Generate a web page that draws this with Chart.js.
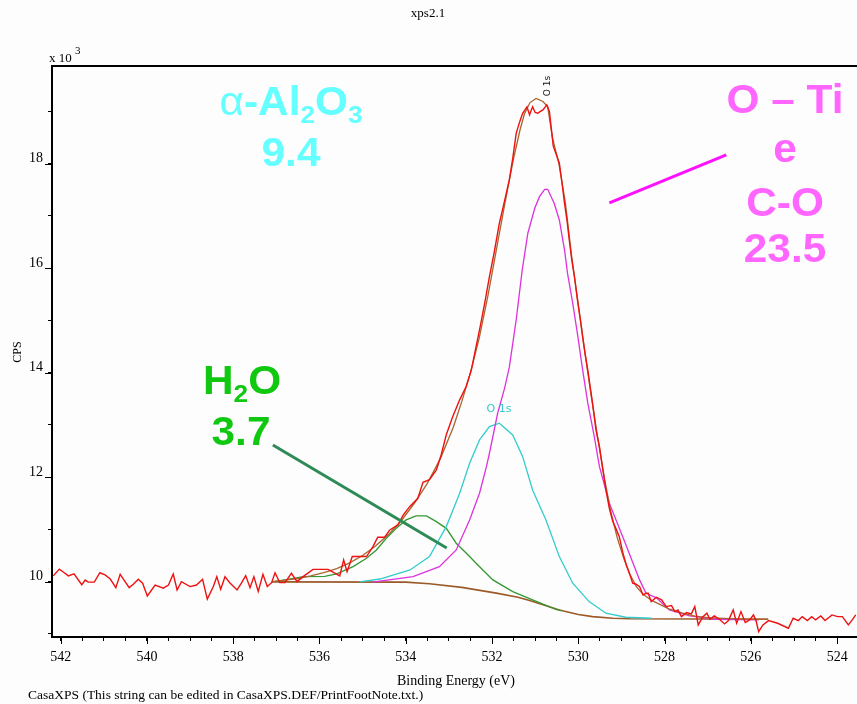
<!DOCTYPE html>
<html><head><meta charset="utf-8">
<script src="https://cdn.jsdelivr.net/npm/chart.js@4/dist/chart.umd.min.js"></script>
<style>html,body{margin:0;padding:0;background:#fdfdfd}#wrap{width:857px;height:704px}</style>
</head><body><div id="wrap"><canvas id="c" width="857" height="704"></canvas></div>
<script>
// ---------- DATA (binding energy in eV, intensity in CPS) ----------
const rawEnergy = [542.17,542.03,541.90,541.82,541.69,541.51,541.43,541.36,541.22,541.09,540.97,540.85,540.72,540.62,540.53,540.41,540.31,540.20,540.10,539.99,539.81,539.62,539.50,539.39,539.30,539.20,539.00,538.85,538.71,538.60,538.46,538.38,538.29,538.19,538.08,537.91,537.81,537.71,537.61,537.52,537.42,537.31,537.21,537.11,537.03,536.92,536.80,536.65,536.52,536.38,536.15,535.80,535.53,535.44,535.36,535.24,534.91,534.76,534.65,534.49,534.37,534.18,534.06,533.91,533.72,533.60,533.45,533.29,533.18,533.06,532.91,532.75,532.60,532.48,532.37,532.27,532.17,532.06,531.95,531.83,531.72,531.60,531.52,531.44,531.36,531.29,531.19,531.13,531.06,531.00,530.94,530.88,530.82,530.73,530.67,530.58,530.50,530.44,530.38,530.32,530.26,530.21,530.15,530.09,530.01,529.95,529.90,529.84,529.78,529.72,529.67,529.59,529.51,529.43,529.36,529.28,529.20,529.12,529.05,528.97,528.88,528.80,528.74,528.66,528.58,528.50,528.43,528.38,528.31,528.19,528.07,527.96,527.84,527.76,527.69,527.61,527.49,527.38,527.30,527.22,527.11,527.02,526.95,526.85,526.73,526.61,526.52,526.41,526.33,526.23,526.13,526.03,525.94,525.88,525.82,525.72,525.59,525.38,525.13,525.02,524.90,524.81,524.69,524.59,524.50,524.38,524.28,524.12,523.99,523.88,523.74,523.65,523.57];
const rawCps = [10110,10240,10160,10110,10150,9940,10030,9990,9990,10170,10130,10050,9885,10140,10030,9885,9955,10045,9970,9725,9935,9875,9935,10145,9840,10000,9905,9935,10045,9665,9905,10095,9855,10095,9980,9840,9970,10115,9885,10095,9810,10140,9905,9980,10170,9980,9980,10160,10000,10095,10235,10235,10110,10415,10190,10480,10480,10670,10850,10850,10990,11085,11275,11435,11595,11900,11950,12140,12425,12810,13160,13480,13735,14050,14500,14900,15330,15840,16300,16860,17250,17690,18100,18580,18800,18965,19090,18935,19090,18980,18965,19000,19030,19125,19000,18330,18150,18010,17650,17245,16900,16540,16150,15840,15330,15000,14690,14350,14050,13700,13415,12900,12585,12140,11755,11400,11150,11000,10860,10560,10300,10120,9970,9950,9905,9745,9780,9777,9617,9701,9650,9522,9541,9426,9458,9330,9407,9382,9522,9171,9330,9395,9280,9343,9280,9190,9254,9458,9203,9426,9216,9267,9362,9254,9043,9171,9254,9203,9108,9299,9254,9330,9254,9330,9267,9343,9254,9362,9330,9330,9171,9267,9362];

const envEnergy = [537.1,536.8,536.5,536.2,535.9,535.6,535.3,535.0,534.7,534.4,534.1,533.8,533.5,533.2,532.9,532.7,532.5,532.3,532.1,531.9,531.7,531.5,531.35,531.25,531.12,530.98,530.82,530.71,530.6,530.45,530.3,530.15,530.0,529.85,529.7,529.55,529.4,529.25,529.1,528.95,528.8,528.65,528.5,528.3,528.1,527.9,527.6,527.3,527.0,526.5,526.0,525.6];
const envCps = [10000,10030,10060,10110,10170,10250,10360,10500,10680,10900,11170,11500,11880,12350,12950,13450,14000,14650,15450,16350,17250,18100,18650,18950,19170,19250,19190,19090,18500,18000,17250,16200,15300,14400,13550,12750,12000,11350,10850,10450,10130,9900,9760,9640,9560,9480,9400,9340,9310,9290,9280,9280];

const bgEnergy = [537.1,534.0,533.45,532.7,531.9,531.4,531.13,530.6,530.44,530.0,529.67,529.2,528.8,525.6];
const bgCps = [9995,9990,9960,9890,9780,9700,9640,9500,9458,9370,9330,9300,9290,9280];

const h2oEnergy = [537.05,536.76,536.38,535.88,535.6,535.22,534.91,534.68,534.45,534.22,533.99,533.76,533.52,533.29,533.06,532.83,532.52,532.37,531.98,531.52,531.06,530.52,530.4];
const h2oCps = [10000,10040,10096,10100,10147,10287,10448,10607,10830,11022,11181,11258,11258,11148,11020,10735,10480,10352,10033,9809,9650,9470,9445];

const alEnergy = [535.07,534.6,533.9,533.45,533.06,532.75,532.52,532.29,532.06,531.83,531.52,531.29,531.06,530.75,530.44,530.13,529.75,529.36,528.9,528.3];
const alCps = [9994,10050,10224,10479,11053,11692,12266,12712,12967,13032,12808,12392,11755,11181,10479,9969,9617,9395,9318,9299];

const tiEnergy = [534.77,534.6,533.83,533.22,532.83,532.52,532.29,532.13,532.06,531.87,531.71,531.6,531.44,531.3,531.17,531.01,530.9,530.78,530.71,530.56,530.44,530.32,530.25,530.13,530.01,529.9,529.78,529.63,529.51,529.28,528.97,528.58,528.43,528.19,527.89,527.42,526.81,525.82];
const tiCps = [9990,10010,10096,10287,10607,11181,11692,12201,12457,13223,13700,14100,15009,15966,16669,17147,17369,17510,17510,17243,16923,16349,15900,15329,14690,14052,13415,12775,12201,11500,10861,10033,9777,9690,9458,9343,9280,9267];

// pointer lines of the annotations (energy, cps)
const h2oPointerEnergy = [537.08,533.05];
const h2oPointerCps = [12616,10645];
const tiPointerEnergy = [529.28,526.57];
const tiPointerCps = [17248,18167];

// ticks
const xMajorTicks = [542,540,538,536,534,532,530,528,526,524];
const yMajorTicks = [10,12,14,16,18]; // x 10^3
const xMinorStep = 0.5, yMinorStep = 1000;

// ---------- helpers ----------
const pts = (xs, ys) => xs.map((x, i) => ({x, y: ys[i]}));
const serif = '"Liberation Serif", "Times New Roman", serif';

const xTickValues = [];
for (let v = 524; v <= 542.0001; v += xMinorStep) xTickValues.push(Math.round(v * 10) / 10);
const yTickValues = [];
for (let v = 9000; v <= 19000; v += yMinorStep) yTickValues.push(v);

function line(label, data, color, width) {
  return {label, data, borderColor: color, backgroundColor: color, borderWidth: width,
    showLine: true, pointRadius: 0, pointHoverRadius: 0, tension: 0, fill: false};
}

function drawParts(ctx, parts, cx, base, size, color) {
  const sx = 1.06;
  let total = 0;
  const m = parts.map(p => {
    const fs = p.sub ? size * 0.62 : size;
    const f = (p.normal ? '' : 'bold ') + fs + 'px "Liberation Sans", Arial, sans-serif';
    ctx.font = f;
    const w = ctx.measureText(p.t).width;
    total += w;
    return {f, w, p};
  });
  ctx.save();
  ctx.translate(cx, 0);
  ctx.scale(sx, 1);
  let x = -total / 2;
  ctx.fillStyle = color;
  ctx.textBaseline = 'alphabetic';
  ctx.textAlign = 'left';
  m.forEach(o => {
    ctx.font = o.f;
    ctx.fillText(o.p.t, x, base + (o.p.sub ? size * 0.2 : 0));
    x += o.w;
  });
  ctx.restore();
}

const decor = {
  id: 'decor',
  beforeDraw(chart) {
    const ctx = chart.ctx;
    ctx.save();
    ctx.fillStyle = '#fdfdfd';
    ctx.fillRect(0, 0, chart.width, chart.height);
    ctx.restore();
  },
  afterDraw(chart) {
    const ctx = chart.ctx, a = chart.chartArea;
    const xs = chart.scales.x, ys = chart.scales.y;
    ctx.save();
    // top frame line
    ctx.strokeStyle = '#000'; ctx.lineWidth = 2;
    ctx.beginPath(); ctx.moveTo(a.left - 1, a.top); ctx.lineTo(a.right, a.top); ctx.stroke();
    // longer major tick marks
    ctx.lineWidth = 1;
    ctx.beginPath();
    xMajorTicks.forEach(v => { const p = Math.round(xs.getPixelForValue(v)) + 0.5; ctx.moveTo(p, a.bottom); ctx.lineTo(p, a.bottom + 7); });
    yMajorTicks.forEach(v => { const p = Math.round(ys.getPixelForValue(v * 1000)) + 0.5; ctx.moveTo(a.left, p); ctx.lineTo(a.left - 7, p); });
    ctx.stroke();

    ctx.fillStyle = '#000';
    // title
    ctx.font = '13px ' + serif; ctx.textAlign = 'center'; ctx.textBaseline = 'alphabetic';
    ctx.fillText('xps2.1', 428, 17);
    // x 10^3
    ctx.textAlign = 'left';
    ctx.font = '13px ' + serif; ctx.fillText('x 10', 49, 62);
    ctx.font = '11px ' + serif; ctx.fillText('3', 75, 54);
    // CPS
    ctx.save(); ctx.translate(21, 352); ctx.rotate(-Math.PI / 2);
    ctx.font = '12px ' + serif; ctx.textAlign = 'center'; ctx.fillText('CPS', 0, 0); ctx.restore();
    // axis title
    ctx.font = '14px ' + serif; ctx.textAlign = 'center';
    ctx.fillText('Binding Energy (eV)', 456, 685);
    // footer
    ctx.textAlign = 'left'; ctx.font = '13.5px ' + serif;
    ctx.fillText('CasaXPS (This string can be edited in CasaXPS.DEF/PrintFootNote.txt.)', 28, 699);

    // small peak labels
    ctx.save(); ctx.translate(550, 86); ctx.rotate(-Math.PI / 2);
    ctx.font = '9px "DejaVu Sans", sans-serif'; ctx.textAlign = 'center'; ctx.fillStyle = '#111';
    ctx.fillText('O 1s', 0, 0); ctx.restore();
    ctx.font = '11px "DejaVu Sans", sans-serif'; ctx.textAlign = 'center'; ctx.fillStyle = '#33cccc';
    ctx.fillText('O 1s', 499, 412);

    // big annotations
    const cyan = '#66ffff', pink = '#ff66ff', green = '#11c811';
    drawParts(ctx, [{t: 'α', normal: true}, {t: '-Al'}, {t: '2', sub: true}, {t: 'O'}, {t: '3', sub: true}], 291, 115, 40, cyan);
    drawParts(ctx, [{t: '9.4'}], 291, 166, 40, cyan);
    drawParts(ctx, [{t: 'O – Ti'}], 785, 113, 40, pink);
    drawParts(ctx, [{t: 'e'}], 785, 162, 40, pink);
    drawParts(ctx, [{t: 'C-O'}], 785, 216, 40, pink);
    drawParts(ctx, [{t: '23.5'}], 785, 262, 40, pink);
    drawParts(ctx, [{t: 'H'}, {t: '2', sub: true}, {t: 'O'}], 242, 394, 40, green);
    drawParts(ctx, [{t: '3.7'}], 241, 445, 40, green);
    ctx.restore();
  }
};

new Chart(document.getElementById('c'), {
  type: 'scatter',
  data: {
    datasets: [
      line('H2O pointer', pts(h2oPointerEnergy, h2oPointerCps), '#2e8b57', 3),
      line('O-Ti pointer', pts(tiPointerEnergy, tiPointerCps), '#ff11ff', 3),
      line('Raw', pts(rawEnergy, rawCps), '#ee1111', 1.4),
      line('Envelope', pts(envEnergy, envCps), '#a8652e', 1.3),
      line('O-Ti / C-O', pts(tiEnergy, tiCps), '#dd33dd', 1.3),
      line('Al2O3', pts(alEnergy, alCps), '#33cccc', 1.3),
      line('H2O', pts(h2oEnergy, h2oCps), '#339933', 1.3),
      line('Background', pts(bgEnergy, bgCps), '#9b5a28', 1.6)
    ]
  },
  options: {
    responsive: false, animation: false, devicePixelRatio: 1,
    layout: {padding: {top: 66, left: 0, right: 0, bottom: 0}},
    plugins: {legend: {display: false}, tooltip: {enabled: false}, title: {display: false}},
    scales: {
      x: {
        type: 'linear', reverse: true, min: 523.54, max: 542.2,
        afterFit(s) { s.height = 67; },
        afterBuildTicks(s) { s.ticks = xTickValues.map(v => ({value: v})); },
        ticks: {autoSkip: false, maxRotation: 0, padding: 8, color: '#000',
          font: {family: serif, size: 14},
          callback: v => xMajorTicks.includes(Math.round(v * 10) / 10) ? String(Math.round(v)) : ''},
        grid: {drawOnChartArea: false, drawTicks: true, tickLength: 4, tickColor: '#000', tickWidth: 1},
        border: {display: true, color: '#000', width: 2}
      },
      y: {
        type: 'linear', min: 8940, max: 19870,
        afterFit(s) { s.width = 52; },
        afterBuildTicks(s) { s.ticks = yTickValues.map(v => ({value: v})); },
        ticks: {autoSkip: false, padding: 5, labelOffset: -5, color: '#000',
          font: {family: serif, size: 14},
          callback: v => yMajorTicks.includes(v / 1000) ? String(v / 1000) : ''},
        grid: {drawOnChartArea: false, drawTicks: true, tickLength: 4, tickColor: '#000', tickWidth: 1},
        border: {display: true, color: '#000', width: 2}
      }
    }
  },
  plugins: [decor]
});
</script>
</body></html>
